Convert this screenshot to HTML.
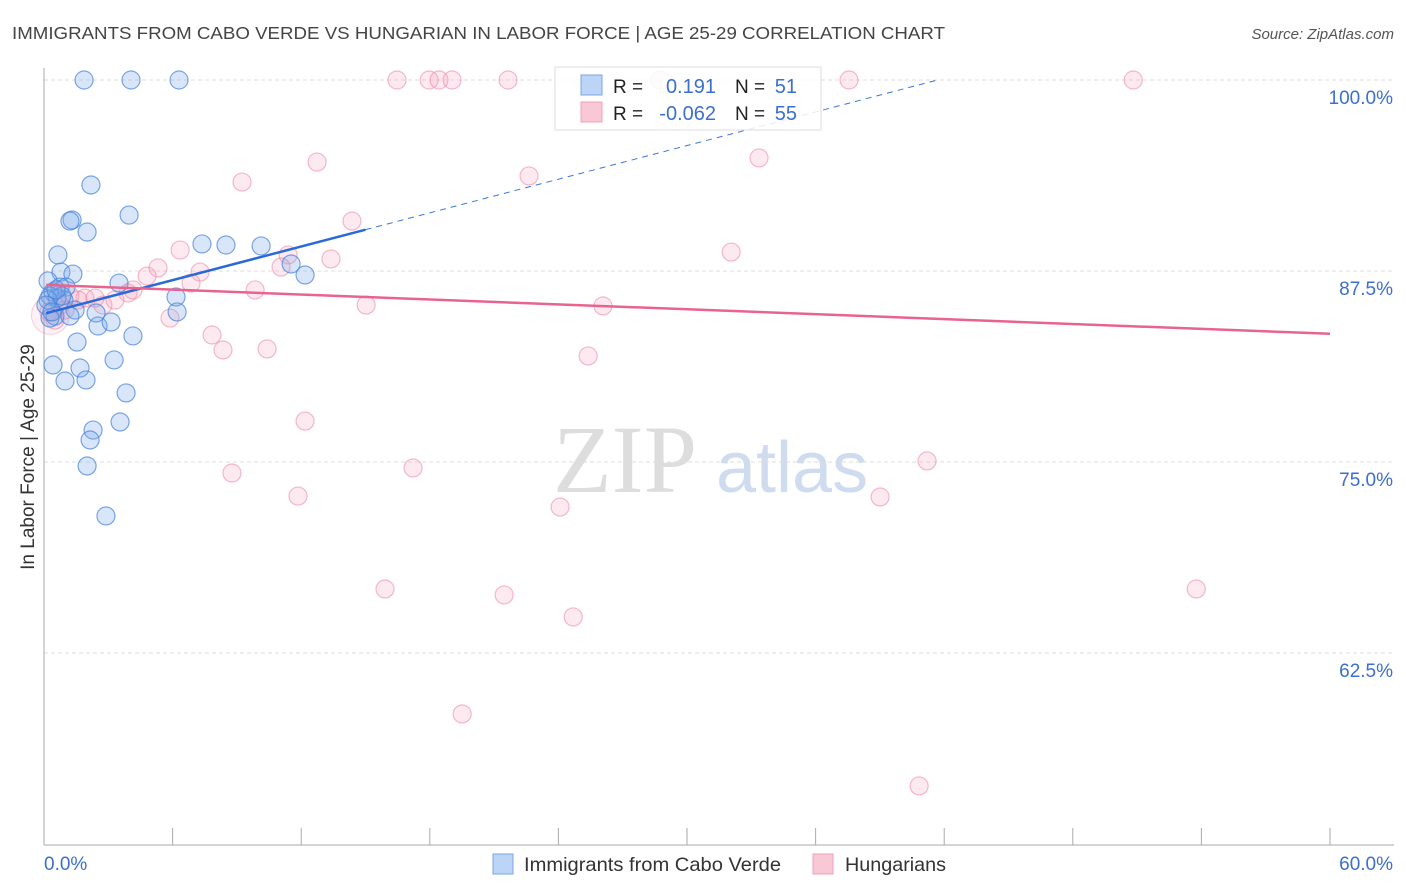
<!DOCTYPE html>
<html><head><meta charset="utf-8"><style>
body{margin:0;background:#fff;}
svg{display:block;font-family:"Liberation Sans",sans-serif;}
</style></head><body>
<svg id="c" width="1406" height="892" viewBox="0 0 1406 892">
<text x="12" y="39" font-size="17.5" fill="#444" textLength="933" lengthAdjust="spacingAndGlyphs">IMMIGRANTS FROM CABO VERDE VS HUNGARIAN IN LABOR FORCE | AGE 25-29 CORRELATION CHART</text>
<text x="1394" y="39" font-size="15" fill="#555" font-style="italic" text-anchor="end">Source: ZipAtlas.com</text>
<g>
<text x="553" y="492" font-size="96" font-family="Liberation Serif,serif" fill="#ddd">ZIP</text>
<text x="716" y="492" font-size="72" fill="#cfdcf0">atlas</text>
</g>
<g id="grid"></g>
<g id="axes"></g>
<g id="pts"></g>
<g id="trend"></g>
<text transform="translate(34,457) rotate(-90)" font-size="19" fill="#333" text-anchor="middle">In Labor Force | Age 25-29</text>
<text x="44" y="870" font-size="19" fill="#3b6fd0">0.0%</text>
<text x="1393" y="870" font-size="19" fill="#3b6fd0" text-anchor="end">60.0%</text>
<g>
<rect x="555" y="67" width="266" height="63" fill="rgba(255,255,255,0.85)" stroke="#ddd"/>
<rect x="581" y="75" width="21" height="20" fill="#bcd4f5" stroke="#7aa6e6"/>
<rect x="581" y="102" width="21" height="20" fill="#f9c8d6" stroke="#f0a0b8"/>
<text x="613" y="93" font-size="19" fill="#222">R =</text>
<text x="716" y="93" font-size="20" fill="#3b6fd0" text-anchor="end">0.191</text>
<text x="735" y="93" font-size="19" fill="#222">N =</text>
<text x="797" y="93" font-size="20" fill="#3b6fd0" text-anchor="end">51</text>
<text x="613" y="120" font-size="19" fill="#222">R =</text>
<text x="716" y="120" font-size="20" fill="#3b6fd0" text-anchor="end">-0.062</text>
<text x="735" y="120" font-size="19" fill="#222">N =</text>
<text x="797" y="120" font-size="20" fill="#3b6fd0" text-anchor="end">55</text>
</g>
<g>
<rect x="493" y="854" width="20" height="20" fill="#bcd4f5" stroke="#7aa6e6"/>
<text x="524" y="871" font-size="19.5" fill="#333" textLength="257" lengthAdjust="spacingAndGlyphs">Immigrants from Cabo Verde</text>
<rect x="813" y="854" width="20" height="20" fill="#f9c8d6" stroke="#f0a0b8"/>
<text x="845" y="871" font-size="19.5" fill="#333" textLength="101" lengthAdjust="spacingAndGlyphs">Hungarians</text>
</g>
</svg>
<script>
const yTicks=[100,87.5,75,62.5];
const yTickLabels=["100.0%","87.5%","75.0%","62.5%"];
const xTicks=[0,6,12,18,24,30,36,42,48,54,60];
const blueX=[1.87,4.06,6.30,2.19,1.31,1.21,3.97,2.01,0.65,0.79,1.35,0.19,0.75,1.03,0.42,0.28,0.93,1.45,0.51,1.21,2.52,3.13,2.43,3.50,4.15,1.54,3.27,0.42,1.68,0.98,1.96,3.83,3.55,2.29,2.15,2.01,2.89,7.37,8.49,10.13,11.53,12.18,6.16,6.21,0.28,0.61,0.84,0.19,0.56,0.09,0.37];
const blueY=[100,100,100,93.13,90.84,90.77,91.16,90.05,88.55,87.43,87.30,86.85,86.45,86.45,86.13,85.86,85.60,84.95,84.55,84.55,83.90,84.16,84.75,86.71,83.25,82.85,81.68,81.35,81.15,80.30,80.37,79.52,77.62,77.09,76.44,74.74,71.47,89.27,89.20,89.14,87.96,87.24,85.80,84.82,84.42,85.73,85.86,85.60,86.26,85.27,84.82];
const pinkX=[16.47,17.97,18.43,19.04,21.65,28.74,37.56,50.82,12.74,9.24,22.63,33.36,14.37,6.35,11.39,13.39,11.06,5.32,4.81,7.28,6.86,9.85,3.92,3.31,2.75,1.91,1.21,15.03,26.08,32.06,5.88,7.84,8.35,10.41,25.39,12.18,8.77,11.85,17.22,24.08,41.20,39.01,15.91,21.47,24.69,53.76,19.51,40.83,0.51,0.75,1.59,0.23,2.38,4.15,0.98];
const pinkY=[100,100,100,100,100,100,100,100,94.63,93.32,93.72,94.90,90.77,88.87,88.55,88.29,87.76,87.70,87.17,87.43,86.71,86.26,86.06,85.60,85.27,85.73,85.86,85.27,85.21,88.74,84.42,83.31,82.33,82.40,81.94,77.68,74.28,72.77,74.61,72.05,75.07,72.71,66.69,66.30,64.86,66.69,58.51,53.80,84.29,85.27,85.60,84.82,85.73,86.26,84.95];
const blueTrend=[84.7,0.367];
const pinkTrend=[86.6,-0.0535];
const NS="http://www.w3.org/2000/svg";
const X=v=>44+v*(1286/60), Y=v=>80+(100-v)*(191/12.5);
function mk(t,a,p){const e=document.createElementNS(NS,t);for(const k in a)e.setAttribute(k,a[k]);p.appendChild(e);return e;}
const grid=document.getElementById('grid'),axes=document.getElementById('axes');
yTicks.forEach((t,i)=>{
 const l=mk('line',{x1:44,x2:1394,y1:Y(t),y2:Y(t),stroke:'#ddd','stroke-dasharray':'4,3'},grid);
 
 
 const tx=mk('text',{x:1393,y:Y(t)+24,'font-size':19,fill:'#3b6fd0','text-anchor':'end'},grid);
 tx.textContent=yTickLabels[i];
 
 
});
mk('line',{x1:44,x2:44,y1:68,y2:845,stroke:'#aaa'},axes);
mk('line',{x1:44,x2:1394,y1:845,y2:845,stroke:'#aaa'},axes);
xTicks.forEach(t=>{const l=mk('line',{x1:X(t),x2:X(t),y1:828,y2:845,stroke:'#aaa'},axes);
 
 });
const pts=document.getElementById('pts');
const big=mk('circle',{cx:X(0.3),cy:Y(84.6),r:19,fill:'rgba(244,160,185,0.15)',stroke:'rgba(236,130,160,0.35)'},pts);


pinkX.forEach((x,i)=>{const c=mk('circle',{cx:X(x),cy:Y(pinkY[i]),r:9,fill:'rgba(244,160,185,0.22)',stroke:'rgba(236,130,160,0.55)','stroke-width':1.2},pts);
 
 });
blueX.forEach((x,i)=>{const c=mk('circle',{cx:X(x),cy:Y(blueY[i]),r:9,fill:'rgba(120,165,235,0.28)',stroke:'rgba(70,130,220,0.7)','stroke-width':1.2},pts);
 
 });
const tr=document.getElementById('trend');
const bf=x=>blueTrend[0]+blueTrend[1]*x, pf=x=>pinkTrend[0]+pinkTrend[1]*x;
const xEnd=(100-blueTrend[0])/blueTrend[1];
let l=mk('line',{x1:X(15),y1:Y(bf(15)),x2:X(xEnd),y2:Y(100),stroke:'#3b78d8','stroke-width':1,'stroke-dasharray':'6,5'},tr);


l=mk('line',{x1:X(0.1),y1:Y(bf(0.1)),x2:X(15),y2:Y(bf(15)),stroke:'#2a6ad6','stroke-width':2.5},tr);


l=mk('line',{x1:X(0.1),y1:Y(pf(0.1)),x2:X(60),y2:Y(pf(60)),stroke:'#e8648e','stroke-width':2.5},tr);


</script>
</body></html>
